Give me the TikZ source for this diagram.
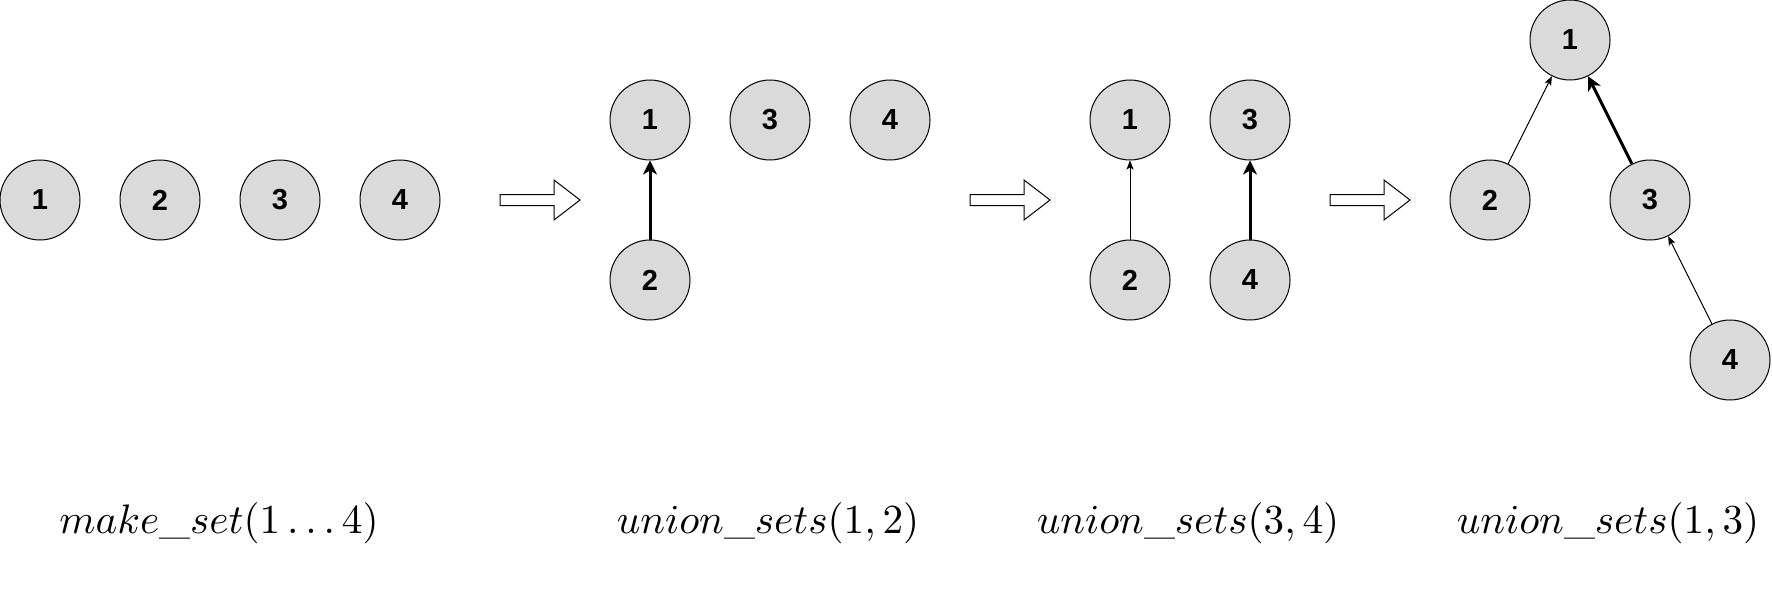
\documentclass[tikz,border=0pt]{standalone}
\usepackage{fontspec}
\newfontfamily\nodefont{Liberation Sans}
\usetikzlibrary{arrows.meta}
\begin{document}
\begin{tikzpicture}[x=1pt,y=-1pt,
  elem/.style={circle,draw=black,line width=1pt,fill={rgb,255:red,218;green,218;blue,218},minimum size=80pt,inner sep=0pt,font=\nodefont\bfseries\fontsize{29}{31}\selectfont},
  thinlink/.style={line width=1pt,-{Stealth[length=9pt,width=7pt,inset=2pt]}},
  thicklink/.style={line width=3pt,-{Stealth[length=14pt,width=14pt,inset=4pt]}},
  blockarrow/.style={draw=black,line width=1pt,fill=white},
  caption/.style={anchor=base,scale=4.12}]
\useasboundingbox (0,0) rectangle (1772,602);
% stage 1
\node[elem] (a1) at (40,200) {1};
\node[elem] (a2) at (160,200) {2};
\node[elem] (a3) at (280,200) {3};
\node[elem] (a4) at (400,200) {4};
% stage 2
\node[elem] (b1) at (650,120) {1};
\node[elem] (b2) at (650,280) {2};
\node[elem] (b3) at (770,120) {3};
\node[elem] (b4) at (890,120) {4};
\draw[thicklink] (b2) -- (b1);
% stage 3
\node[elem] (c1) at (1130,120) {1};
\node[elem] (c2) at (1130,280) {2};
\node[elem] (c3) at (1250,120) {3};
\node[elem] (c4) at (1250,280) {4};
\draw[thinlink] (c2) -- (c1);
\draw[thicklink] (c4) -- (c3);
% stage 4
\node[elem] (d1) at (1570,40) {1};
\node[elem] (d2) at (1490,200) {2};
\node[elem] (d3) at (1650,200) {3};
\node[elem] (d4) at (1730,360) {4};
\draw[thinlink] (d2) -- (d1);
\draw[thicklink] (d3) -- (d1);
\draw[thinlink] (d4) -- (d3);
% block arrows
\foreach \x in {500,970,1330}{
  \draw[blockarrow] (\x,194.5) -- ++(54,0) -- ++(0,-14.5) -- ++(26,20) -- ++(-26,20) -- ++(0,-14.5) -- ++(-54,0) -- cycle;
}
% captions
\node[caption] (ta) at (219,533) {$make\_set(1\ldots4)$};
\node[caption] (tb) at (768,533) {$union\_sets(1,2)$};
\node[caption] (tc) at (1188,533) {$union\_sets(3,4)$};
\node[caption] (td) at (1608,533) {$union\_sets(1,3)$};
\end{tikzpicture}
\end{document}
